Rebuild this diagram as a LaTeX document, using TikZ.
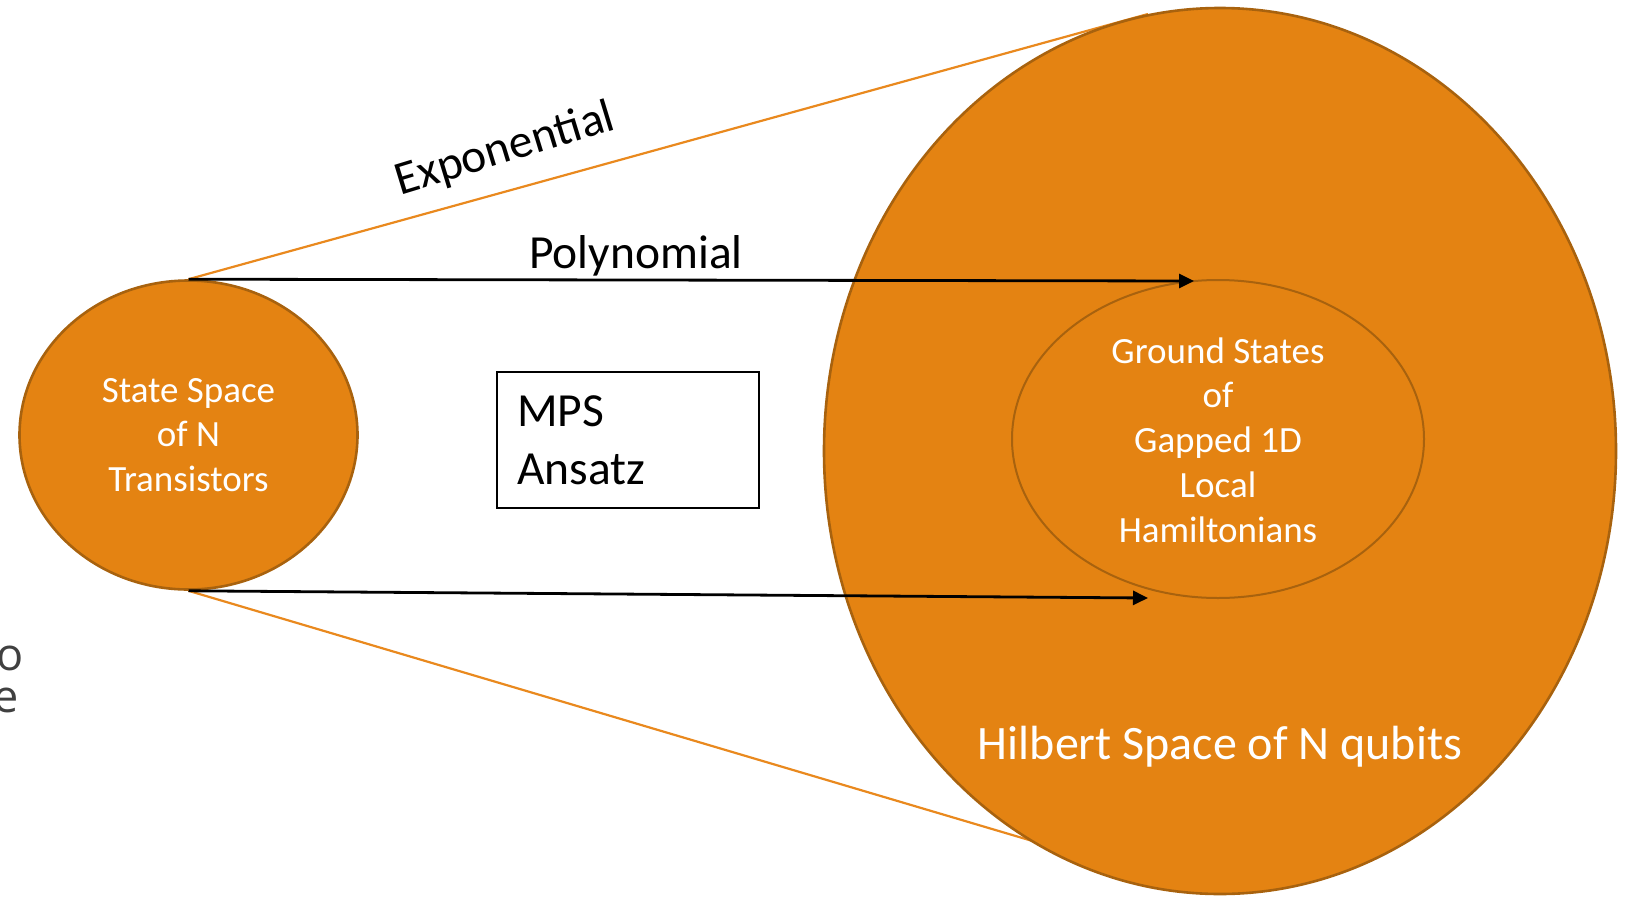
\documentclass[tikz,border=0pt]{standalone}
\usepackage{fontspec}
\setmainfont{Carlito}
\newfontfamily\cutfont{Open Sans}
\usetikzlibrary{shapes.geometric,arrows.meta}
\definecolor{spaceorange}{RGB}{228,131,18}
\definecolor{spaceedge}{RGB}{168,98,14}
\definecolor{lineorange}{RGB}{233,137,30}
\definecolor{cutgrey}{RGB}{64,64,64}

\begin{document}
\begin{tikzpicture}[x=1pt, y=-1pt,
    space/.style={ellipse, draw=spaceedge, fill=spaceorange, line width=2.6pt, inner sep=0pt},
    spacetext/.style={text=white, align=center, font=\fontsize{37}{44.8}\selectfont},
    maplabel/.style={font=\fontsize{47.5}{56}\selectfont},
    map/.style={line width=2.8pt, -{Triangle[length=15pt,width=14pt]}},
    bound/.style={lineorange, line width=2.2pt}]
  \useasboundingbox (0,0) rectangle (1625,897);
  % cut-off text at the left edge
  \node[anchor=base east, inner sep=0pt, text=cutgrey, font=\cutfont\fontsize{45}{54}\selectfont] (cuto) at (24,670) {o};
  \node[anchor=base east, inner sep=0pt, text=cutgrey, font=\cutfont\fontsize{45}{54}\selectfont] (cute) at (19,712) {e};
  % the two spaces
  \node[space, minimum width=338pt, minimum height=309pt] (state) at (188.5,435) {};
  \node[spacetext] (statetext) at (state) {State Space\\of N\\Transistors};
  \coordinate (bottomend) at (1100,861);
  \coordinate (topend) at (1148,14);
  \draw[bound] (state.north) -- (topend);
  \draw[bound] (state.south) -- (bottomend);
  \node[space, minimum width=792pt, minimum height=886pt] (hilbert) at (1220,451) {};
  \node[space, line width=2pt, minimum width=412pt, minimum height=318pt] (ground) at (1218,439) {};
  \node[spacetext] (groundtext) at (1218,440) {Ground States\\of\\Gapped 1D\\Local\\Hamiltonians};
  \node[text=white, font=\fontsize{48}{57}\selectfont] (hilberttext) at (1220,747) {Hilbert Space of N qubits};
  % maps
  \coordinate (polyend) at (1194,281);
  \coordinate (lowend) at (1148,598);
  \draw[map] (state.north) -- (polyend);
  \draw[map] (state.south) -- (lowend);
  \node[maplabel] (poly) at (636,256) {Polynomial};
  \node[maplabel, rotate=17] (expo) at (505,150) {Exponential};
  \node[draw, line width=2pt, minimum width=262pt, minimum height=136pt, text width=221pt, inner xsep=20.5pt, align=left, font=\fontsize{47.5}{58}\selectfont] (mps) at (627.5,440) {MPS\\Ansatz};
\end{tikzpicture}
\end{document}
